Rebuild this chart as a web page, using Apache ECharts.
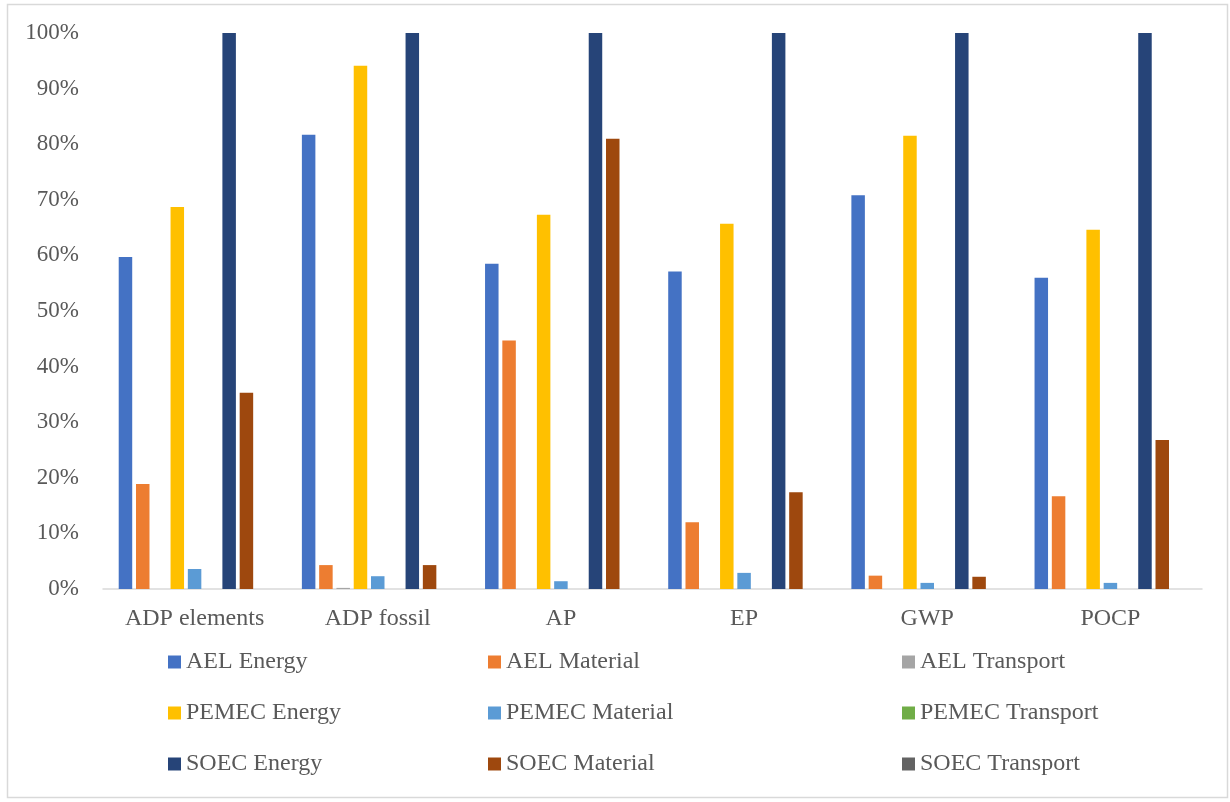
<!DOCTYPE html>
<html>
<head>
<meta charset="utf-8">
<script src="https://cdn.jsdelivr.net/npm/echarts@6/dist/echarts.min.js"></script>
<style>
html,body{margin:0;padding:0;background:#fff;}
#chart{width:1230px;height:802px;}
</style>
</head>
<body>
<div id="chart"></div>
<script>
const categories = ['ADP elements', 'ADP fossil', 'AP', 'EP', 'GWP', 'POCP'];
const seriesNames = ['AEL Energy', 'AEL Material', 'AEL Transport',
                     'PEMEC Energy', 'PEMEC Material', 'PEMEC Transport',
                     'SOEC Energy', 'SOEC Material', 'SOEC Transport'];
const aelEnergy      = [59.7, 81.7, 58.5, 57.1, 70.8, 56.0];
const aelMaterial    = [18.9, 4.3, 44.7, 12.0, 2.4, 16.7];
const aelTransport   = [0, 0.2, 0, 0, 0, 0];
const pemecEnergy    = [68.7, 94.1, 67.3, 65.7, 81.5, 64.6];
const pemecMaterial  = [3.6, 2.3, 1.4, 2.9, 1.1, 1.1];
const pemecTransport = [0, 0, 0, 0, 0, 0];
const soecEnergy     = [100, 100, 100, 100, 100, 100];
const soecMaterial   = [35.3, 4.3, 81.0, 17.4, 2.2, 26.8];
const soecTransport  = [0, 0, 0, 0, 0, 0];
const yTicks = [0, 10, 20, 30, 40, 50, 60, 70, 80, 90, 100];

const seriesData = [aelEnergy, aelMaterial, aelTransport, pemecEnergy, pemecMaterial,
                    pemecTransport, soecEnergy, soecMaterial, soecTransport];
const colors = ['#4472C4', '#ED7D31', '#A5A5A5', '#FFC000', '#5B9BD5', '#70AD47',
                '#264478', '#9E480E', '#636363'];

const font = "'Liberation Serif', 'DejaVu Serif', serif";
const textColor = '#595959';

function legendCol(names, left) {
  return {
    data: names,
    orient: 'vertical',
    left: left,
    top: 648,
    icon: 'rect',
    itemWidth: 13,
    itemHeight: 13,
    itemGap: 23,
    padding: 0,
    textStyle: { fontFamily: font, fontSize: 24, color: textColor, lineHeight: 28, padding: [0, 0, 0, 0] },
    selectedMode: false
  };
}

const chart = echarts.init(document.getElementById('chart'), null, { renderer: 'canvas' });
chart.setOption({
  animation: false,
  backgroundColor: '#fff',
  color: colors,
  graphic: [{
    type: 'rect',
    shape: { x: 7.5, y: 4.5, width: 1220, height: 793 },
    style: { fill: 'none', stroke: '#d9d9d9', lineWidth: 1.5 },
    silent: true
  }],
  grid: { left: 103, right: 28, top: 33, bottom: 213, containLabel: false },
  legend: [
    legendCol([seriesNames[0], seriesNames[3], seriesNames[6]], 168),
    legendCol([seriesNames[1], seriesNames[4], seriesNames[7]], 488),
    legendCol([seriesNames[2], seriesNames[5], seriesNames[8]], 902)
  ],
  xAxis: {
    type: 'category',
    data: categories,
    axisLine: { lineStyle: { color: '#d9d9d9', width: 1.5 } },
    axisTick: { show: false },
    axisLabel: { fontFamily: font, fontSize: 24, color: textColor, margin: 18 },
    splitLine: { show: false }
  },
  yAxis: {
    type: 'value',
    min: yTicks[0],
    max: yTicks[yTicks.length - 1],
    interval: 10,
    axisLine: { show: false },
    axisTick: { show: false },
    splitLine: { show: false },
    axisLabel: { fontFamily: font, fontSize: 23, color: textColor, margin: 24,
                 formatter: v => v + '%' }
  },
  series: seriesNames.map((n, i) => ({
    name: n,
    type: 'bar',
    data: seriesData[i],
    barWidth: 13.5,
    barGap: '28%',
    itemStyle: { color: colors[i] }
  }))
});
</script>
</body>
</html>
